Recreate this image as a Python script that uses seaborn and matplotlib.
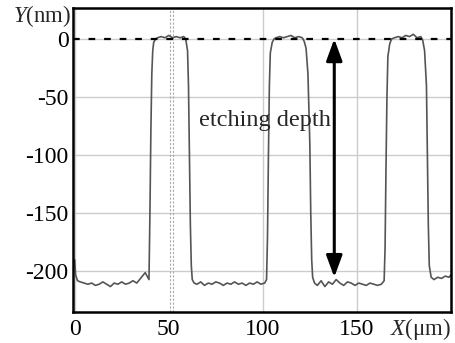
import matplotlib
matplotlib.use("Agg")
import matplotlib.pyplot as plt
import seaborn as sns
import pandas as pd

# profile (x in um, y in nm)
x_um = [0, 0.5, 1.5, 3, 5, 7, 9, 11, 13, 15, 17, 19, 21, 23, 25, 27, 29, 31, 33, 35,
        36.5, 37.5, 38.5, 39.5,
        40, 40.5, 41, 41.5, 42, 43, 44,
        46, 48, 50, 52, 54, 56, 58, 59,
        60, 60.5, 61, 61.5, 62, 62.5, 63.5,
        65, 67, 69, 71, 73, 75, 77, 79, 81, 83, 85, 87, 89, 91, 93, 95, 97, 99, 101, 102,
        102.5, 103, 103.5, 104, 105, 106, 107,
        109, 111, 113, 115, 117, 119, 121, 122,
        123, 124, 125, 125.5, 126, 126.5, 127.5,
        129, 131, 133, 135, 137, 139, 141, 143, 145, 147, 149, 151, 153, 155, 157, 159,
        161, 163, 164.5,
        165, 165.5, 166, 166.5, 167.5, 168.5, 170,
        172, 174, 176, 178, 180, 182, 184, 185,
        186, 187, 187.5, 188, 188.5, 189.5,
        191, 193, 195, 197, 199, 200]
y_nm = [-190, -203, -208, -209, -210, -211, -210, -212, -211, -209, -211, -213, -210, -211,
        -209, -211, -210, -208, -210, -206,
        -203, -201, -204, -207,
        -150, -80, -30, -10, -3, 0, 1,
        2, 1, 3, 1, 2, 1, 2, 0,
        -10, -40, -100, -160, -195, -207, -210,
        -211, -209, -212, -210, -211, -209, -210, -212, -210, -211, -209, -211, -210, -212,
        -210, -211, -209, -211, -210, -207,
        -170, -100, -40, -12, -3, 0, 1,
        2, 1, 2, 3, 1, 2, 1, -2,
        -8, -30, -90, -150, -190, -205, -210,
        -212, -208, -213, -209, -211, -207, -210, -212, -209, -210, -212, -210, -211, -212,
        -210, -211, -212, -211, -208,
        -180, -110, -50, -15, -4, 0, 1,
        2, 1, 3, 2, 4, 1, 2, -1,
        -10, -40, -100, -160, -195, -205,
        -207, -205, -206, -204, -205, -203]

x_ticks = [0, 50, 100, 150]
y_ticks = [0, -50, -100, -150, -200]
arrow_x = 138
depth_top, depth_bottom = 0, -205

df = pd.DataFrame({"x": x_um, "y": y_nm})

sns.set_theme(style="white")
plt.rcParams["font.family"] = ["Liberation Serif", "DejaVu Serif"]
plt.rcParams["mathtext.fontset"] = "custom"
plt.rcParams["mathtext.it"] = "Liberation Serif:italic"
plt.rcParams["mathtext.rm"] = "Liberation Serif"
plt.rcParams["axes.unicode_minus"] = False

fig = plt.figure(figsize=(4.55, 3.43), dpi=100)
ax = fig.add_axes([0.160, 0.090, 0.831, 0.887])

sns.lineplot(data=df, x="x", y="y", color="#555555", linewidth=1.2, ax=ax)

# dashed reference at the top surface
ax.axhline(0, color="black", linestyle=(0, (3, 4)), linewidth=1.6, zorder=3)

ax.set_xlim(-1, 200)
ax.set_ylim(-235, 26.7)
ax.set_xticks(x_ticks)
ax.set_yticks(y_ticks)
ax.set_xticklabels([str(v) for v in x_ticks])
ax.set_yticklabels([str(v) for v in y_ticks])
ax.grid(True, color="#cccccc", linewidth=1.0)
ax.xaxis.get_gridlines()[1].set_visible(False)
# scan marker near x = 51 drawn as a faint double dashed line
for xv in (50.5, 52.5):
    ax.axvline(xv, color="#aaaaaa", linestyle=(0, (2, 1.5)), linewidth=0.8, zorder=1)
ax.set_axisbelow(True)
ax.tick_params(axis="both", labelsize=17, colors="black", length=0)
ax.tick_params(axis="x", pad=5)
ax.tick_params(axis="y", pad=3)
ax.set_xlabel("")
ax.set_ylabel("")
for s in ax.spines.values():
    s.set_color("black")
    s.set_linewidth(1.8)

# etching depth arrow
ax.annotate("", xy=(arrow_x, depth_bottom), xytext=(arrow_x, depth_top),
            arrowprops=dict(arrowstyle="<|-|>,head_length=0.6,head_width=0.22",
                            color="black", lw=2.2, mutation_scale=22,
                            shrinkA=0, shrinkB=0), zorder=4)
ax.text(101, -70, "etching depth", fontsize=17.5, ha="center", va="center")

ax.text(-0.005, 0.972, "$Y$(nm)", transform=ax.transAxes, fontsize=16.5,
        ha="right", va="center")
ax.text(0.838, -0.057, "$X$(μm)", transform=ax.transAxes, fontsize=16.5,
        ha="left", va="center")

plt.savefig("out.png", dpi=100)
